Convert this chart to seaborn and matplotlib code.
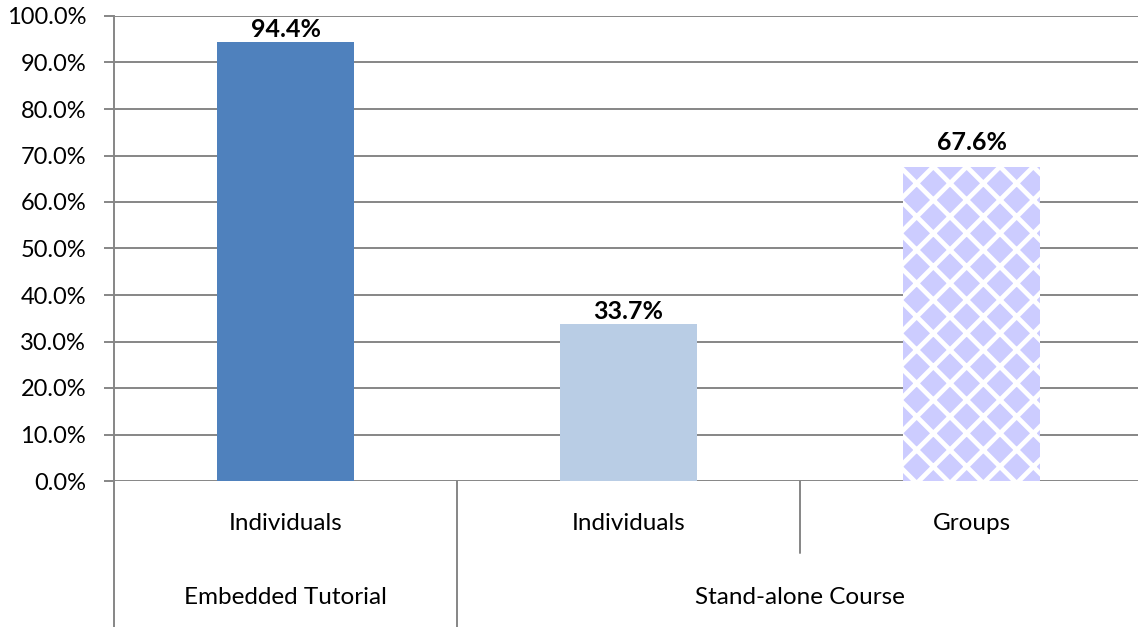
import matplotlib
matplotlib.use("Agg")
import matplotlib.pyplot as plt
import matplotlib.transforms as mtransforms
import seaborn as sns
import pandas as pd

# Chart data
groups = ["Embedded Tutorial", "Stand-alone Course", "Stand-alone Course"]
subgroups = ["Individuals", "Individuals", "Groups"]
values = [94.4, 33.7, 67.6]
bar_colors = ["#4F81BD", "#B9CDE5", "#CCCCFF"]
y_ticks = list(range(0, 101, 10))

sns.set_theme(style="white")
plt.rcParams["font.family"] = ["Lato", "DejaVu Sans"]
plt.rcParams["hatch.linewidth"] = 3.4
plt.rcParams["hatch.color"] = "white"

grid_color = "#868686"

df = pd.DataFrame({
    "key": [f"{g}|{s}" for g, s in zip(groups, subgroups)],
    "value": values,
})

fig = plt.figure(figsize=(11.38, 6.27), dpi=100)
# plot area runs slightly past the right edge of the canvas
ax = fig.add_axes([114 / 1138, 1 - 481 / 627, 3 * 343 / 1138, (481 - 16) / 627])

sns.barplot(data=df, x="key", y="value", hue="key", palette=bar_colors,
            legend=False, width=0.40, saturation=1, ax=ax, zorder=3)

patches = ax.patches
for p in patches:
    p.set_linewidth(0)

# Patterned fill for the group bar
patches[2].set_hatch("x")
patches[2].set_edgecolor("white")
patches[2].set_linewidth(0)

# Value labels (the patterned bar's label sits a little higher)
label_offsets = [1, 1, 9]
for p, v, off in zip(patches, values, label_offsets):
    ax.annotate(f"{v:.1f}%", (p.get_x() + p.get_width() / 2, v),
                xytext=(0, off), textcoords="offset points",
                ha="center", va="bottom", fontsize=18, fontweight="bold",
                color="black")

ax.set_ylim(0, 100)
ax.set_xlim(-0.5, len(values) - 0.5)
ax.set_yticks(y_ticks)
ax.set_yticklabels([f"{t:.1f}%" for t in y_ticks], fontsize=17, color="black")
ax.yaxis.grid(True, color=grid_color, linewidth=1.4, zorder=0)
ax.set_axisbelow(True)
ax.tick_params(axis="y", length=7, width=1.4, color=grid_color, direction="out",
               left=True, pad=13)
ax.set_xticks([])
ax.set_xlabel("")
ax.set_ylabel("")

for side in ["top", "right", "bottom"]:
    ax.spines[side].set_visible(False)
ax.spines["left"].set_color(grid_color)
ax.spines["left"].set_linewidth(1.4)

# Category axis: subgroup labels, group labels and separators
trans = mtransforms.blended_transform_factory(ax.transData, ax.transAxes)
axes_h = 481 - 16
bottom_extent = -(627 - 481) / axes_h
mid_extent = -(553 - 481) / axes_h

ax.plot([-0.5, -0.5], [0, bottom_extent], transform=trans, color=grid_color,
        linewidth=1.4, clip_on=False)
ax.plot([0.5, 0.5], [0, bottom_extent], transform=trans, color=grid_color,
        linewidth=1.4, clip_on=False)
ax.plot([1.5, 1.5], [0, mid_extent], transform=trans, color=grid_color,
        linewidth=1.4, clip_on=False)

sub_y = -(523 - 481) / axes_h
grp_y = -(597 - 481) / axes_h
for i, s in enumerate(subgroups):
    ax.text(i, sub_y, s, transform=trans, ha="center", va="center",
            fontsize=17.5, color="black")

# Group labels centered across their members
seen = []
for g in groups:
    if g not in seen:
        seen.append(g)
for g in seen:
    idx = [i for i, gg in enumerate(groups) if gg == g]
    center = (idx[0] + idx[-1]) / 2
    ax.text(center, grp_y, g, transform=trans, ha="center", va="center",
            fontsize=17.5, color="black")

fig.savefig("out.png", dpi=100)
